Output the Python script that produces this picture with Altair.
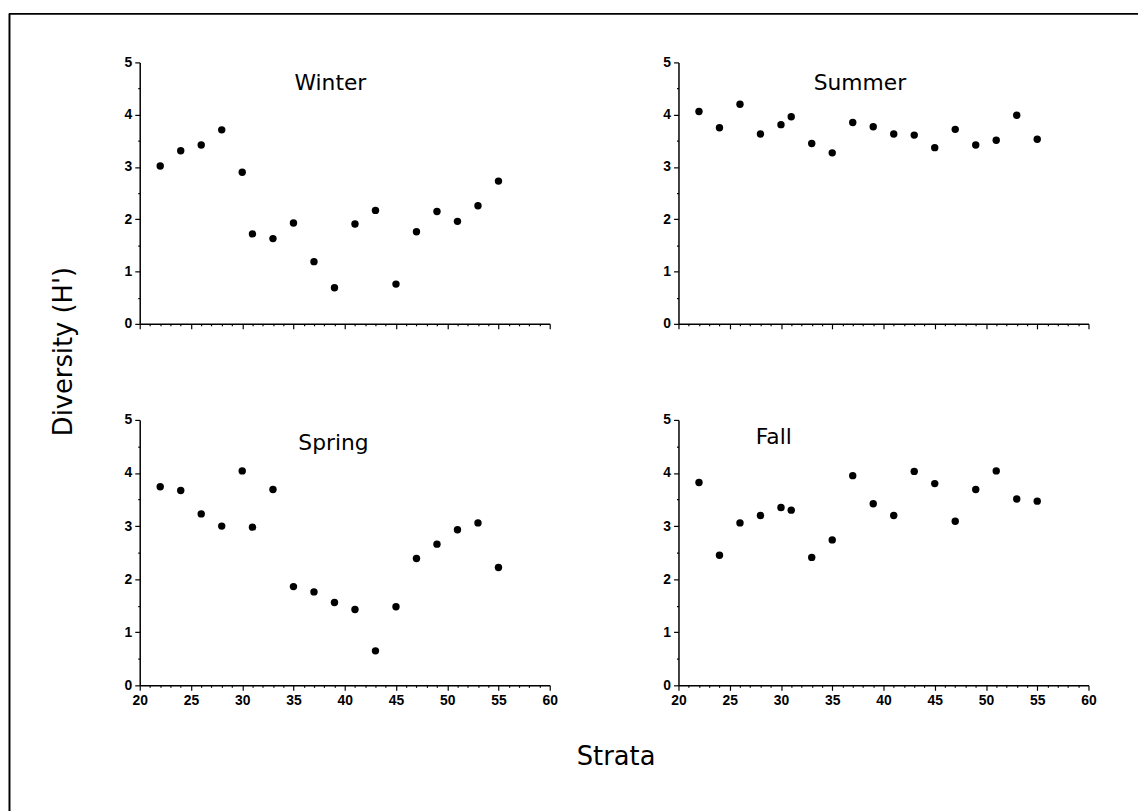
import altair as alt
import pandas as pd

strata = [22, 24, 26, 28, 30, 31, 33, 35, 37, 39, 41, 43, 45, 47, 49, 51, 53, 55]
winter = [3.02, 3.31, 3.42, 3.71, 2.90, 1.72, 1.63, 1.93, 1.19, 0.69, 1.91, 2.17, 0.76, 1.76, 2.15, 1.96, 2.26, 2.73]
summer = [4.06, 3.75, 4.20, 3.63, 3.81, 3.96, 3.45, 3.27, 3.85, 3.77, 3.63, 3.61, 3.37, 3.72, 3.42, 3.51, 3.99, 3.53]
spring = [3.74, 3.67, 3.23, 3.00, 4.04, 2.98, 3.69, 1.86, 1.76, 1.56, 1.43, 0.65, 1.48, 2.39, 2.66, 2.93, 3.06, 2.22]
fall = [3.82, 2.45, 3.06, 3.20, 3.35, 3.30, 2.41, 2.74, 3.95, 3.42, 3.20, 4.03, 3.80, 3.09, 3.69, 4.04, 3.51, 3.47]

seasons = ["Winter", "Summer", "Spring", "Fall"]
label_x = [38.6, 37.7, 38.9, 29.3]
label_y = [4.6, 4.6, 4.57, 4.68]

x_ticks = list(range(20, 61))
y_ticks = [i * 0.5 for i in range(11)]

W = 414
H_TOP, H_BOTTOM = 264, 268
TXT_FONT = "DejaVu Sans"
TICK_FONT = "Liberation Sans"


def axis_common():
    return dict(
        tickColor="black",
        tickWidth=1.2,
        domainColor="black",
        domainWidth=1.5,
        grid=False,
        title=None,
        labelFont=TICK_FONT,
        labelFontWeight="bold",
        labelFontSize=14,
        labelColor="black",
        labelPadding=3,
        labelFlush=False,
        labelOverlap=False,
    )


def panel(name, values, lx, ly, show_x_labels, h, extra=None):
    df = pd.DataFrame({"Strata": strata, "H": values})
    xaxis = alt.Axis(
        values=x_ticks,
        labels=show_x_labels,
        labelExpr="datum.value % 5 === 0 ? format(datum.value, 'd') : ''",
        tickSize={"condition": {"test": "datum.value % 5 === 0", "value": 5}, "value": 2},
        **axis_common(),
    )
    yaxis = alt.Axis(
        values=y_ticks,
        labelExpr="datum.value % 1 === 0 ? format(datum.value, 'd') : ''",
        tickSize={"condition": {"test": "datum.value % 1 === 0", "value": 5}, "value": 2},
        **axis_common(),
    )
    xenc = alt.X("Strata:Q", scale=alt.Scale(domain=[20, 60], nice=False, zero=False), axis=xaxis)
    yenc = alt.Y("H:Q", scale=alt.Scale(domain=[0, 5], nice=False, zero=False), axis=yaxis)
    pts = alt.Chart(df).mark_circle(size=56, color="black", opacity=1).encode(x=xenc, y=yenc)
    lab = alt.Chart(pd.DataFrame({"Strata": [lx], "H": [ly], "t": [name]})).mark_text(
        font=TXT_FONT, fontSize=22, color="black", align="center", baseline="middle"
    ).encode(x=xenc, y=yenc, text="t:N")
    layers = [pts, lab]
    if extra:
        layers += extra
    return alt.layer(*layers).properties(width=W, height=h)


one = pd.DataFrame({"a": [0]})
frame_top = alt.Chart(one).mark_rule(color="black", strokeWidth=2).encode(
    x=alt.value(-132), x2=alt.value(1008), y=alt.value(-49)
)
frame_left = alt.Chart(one).mark_rule(color="black", strokeWidth=2).encode(
    x=alt.value(-131.5), y=alt.value(-49.5), y2=alt.value(756)
)
ytitle = alt.Chart(one).mark_text(
    text="Diversity (H')", font=TXT_FONT, fontSize=26, angle=270, align="center", baseline="middle", color="black"
).encode(x=alt.value(-76), y=alt.value(292))
xtitle = alt.Chart(one).mark_text(
    text="Strata", font=TXT_FONT, fontSize=26, align="center", baseline="middle", color="black"
).encode(x=alt.value(481), y=alt.value(701))

p_w = panel("Winter", winter, label_x[0], label_y[0], False, H_TOP, [frame_top, frame_left, ytitle, xtitle])
p_s = panel("Summer", summer, label_x[1], label_y[1], False, H_TOP)
p_sp = panel("Spring", spring, label_x[2], label_y[2], True, H_BOTTOM)
p_f = panel("Fall", fall, label_x[3], label_y[3], True, H_BOTTOM)

chart = alt.concat(
    p_w, p_s, p_sp, p_f, columns=2, spacing={"row": 97, "column": 130}, bounds="flush"
).configure_view(stroke=None).properties(padding=0, background="white")

chart.save("out.html", embed_options={"renderer": "svg", "actions": False})
